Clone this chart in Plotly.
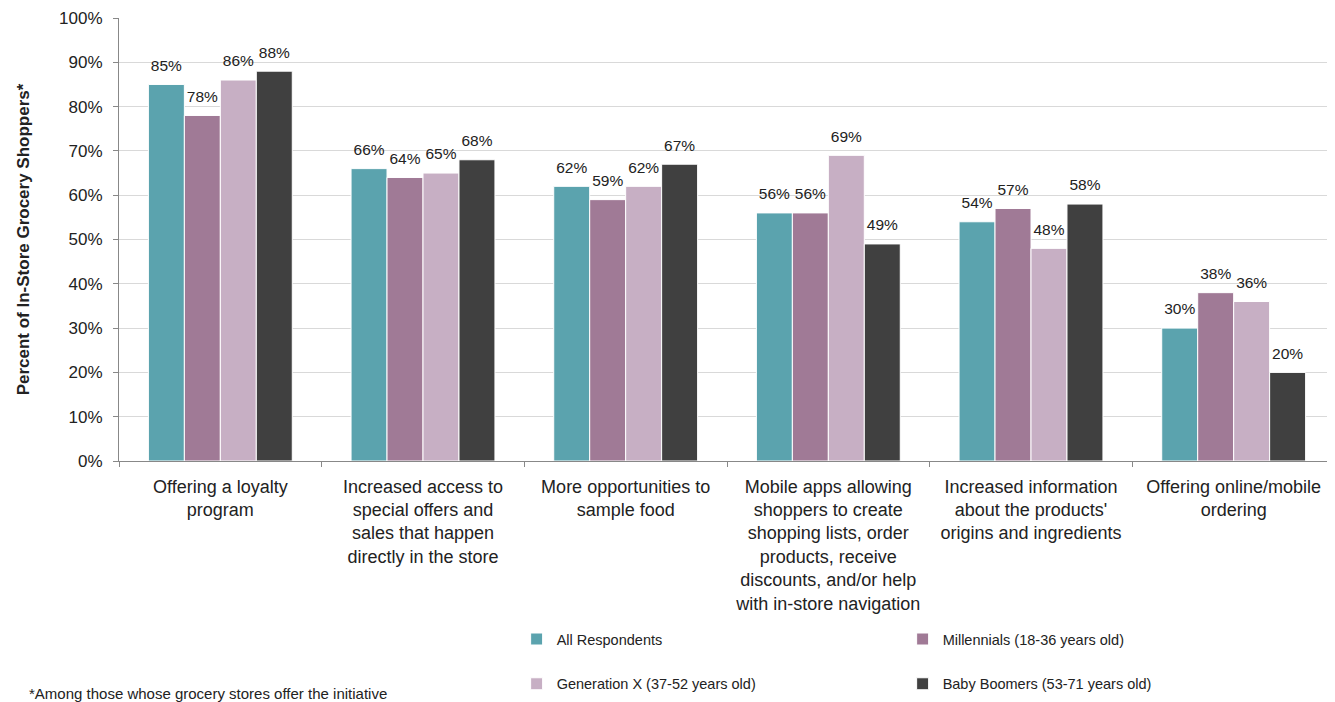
import plotly.graph_objects as go

categories = [
    "Offering a loyalty<br>program",
    "Increased access to<br>special offers and<br>sales that happen<br>directly in the store",
    "More opportunities to<br>sample food",
    "Mobile apps allowing<br>shoppers to create<br>shopping lists, order<br>products, receive<br>discounts, and/or help<br>with in-store navigation",
    "Increased information<br>about the products'<br>origins and ingredients",
    "Offering online/mobile<br>ordering",
]
series_names = [
    "All Respondents",
    "Millennials (18-36 years old)",
    "Generation X (37-52 years old)",
    "Baby Boomers (53-71 years old)",
]
all_resp = [85, 66, 62, 56, 54, 30]
millennials = [78, 64, 59, 56, 57, 38]
gen_x = [86, 65, 62, 69, 48, 36]
boomers = [88, 68, 67, 49, 58, 20]
colors = ["#5BA3AE", "#A07A96", "#C7AFC4", "#404040"]
series_values = [all_resp, millennials, gen_x, boomers]
legend_ids = ["legend", "legend", "legend2", "legend2"]

fig = go.Figure()
for i, (name, vals, col, lg) in enumerate(zip(series_names, series_values, colors, legend_ids)):
    fig.add_trace(go.Bar(
        x=categories, y=vals, name=name,
        marker=dict(color=col, line=dict(color="white", width=1)),
        offsetgroup=str(i), legend=lg, hoverinfo="skip",
    ))
for i, vals in enumerate(series_values):
    fig.add_trace(go.Scatter(
        x=categories, y=vals, mode="markers+text",
        text=[f"{v}%" for v in vals], textposition="top center",
        textfont=dict(size=15.5, color="#222"),
        marker=dict(size=14, opacity=0),
        offsetgroup=str(i), showlegend=False, cliponaxis=False,
        hoverinfo="skip",
    ))

legend_common = dict(
    orientation="h", xanchor="left", yanchor="middle",
    font=dict(size=14.5, family="Liberation Sans, Arial", color="#222"),
    entrywidth=341, entrywidthmode="pixels", bgcolor="rgba(0,0,0,0)",
    itemwidth=30, traceorder="normal",
)

# plot area: 1216 x 443 px
fig.update_layout(
    width=1328, height=694,
    margin=dict(l=111, r=1, t=10, b=241, autoexpand=False),
    plot_bgcolor="white", paper_bgcolor="white",
    font=dict(family="Liberation Sans, Arial", size=15, color="#222"),
    barmode="group", bargap=0.29, bargroupgap=0.0,
    scattermode="group", scattergap=0.29,
    legend=dict(x=0.327, y=-0.402, **legend_common),
    legend2=dict(x=0.327, y=-0.503, **legend_common),
    xaxis=dict(
        showline=True, linecolor="#888", linewidth=1,
        ticks="outside", tickson="boundaries", ticklen=5, tickcolor="#888",
        tickfont=dict(size=18), tickangle=0, automargin=False,
        ticklabelstandoff=9,
    ),
    yaxis=dict(
        range=[0, 100], dtick=10, ticksuffix="%",
        showline=True, linecolor="#888", linewidth=1,
        ticks="outside", ticklen=5, tickcolor="#888",
        gridcolor="#D9D9D9", gridwidth=1,
        tickfont=dict(size=17), ticklabelstandoff=7, automargin=False,
        ticklabeloverflow="allow",
        title=dict(text="<b>Percent of In-Store Grocery Shoppers*</b>",
                   font=dict(size=17), standoff=25),
        zeroline=False,
    ),
    annotations=[dict(
        text="*Among those whose grocery stores offer the initiative",
        xref="paper", yref="paper", x=0.222, y=-0.524,
        xanchor="right", yanchor="middle", showarrow=False,
        font=dict(size=15, color="#222"),
    )],
)

fig.write_html("out.html")
